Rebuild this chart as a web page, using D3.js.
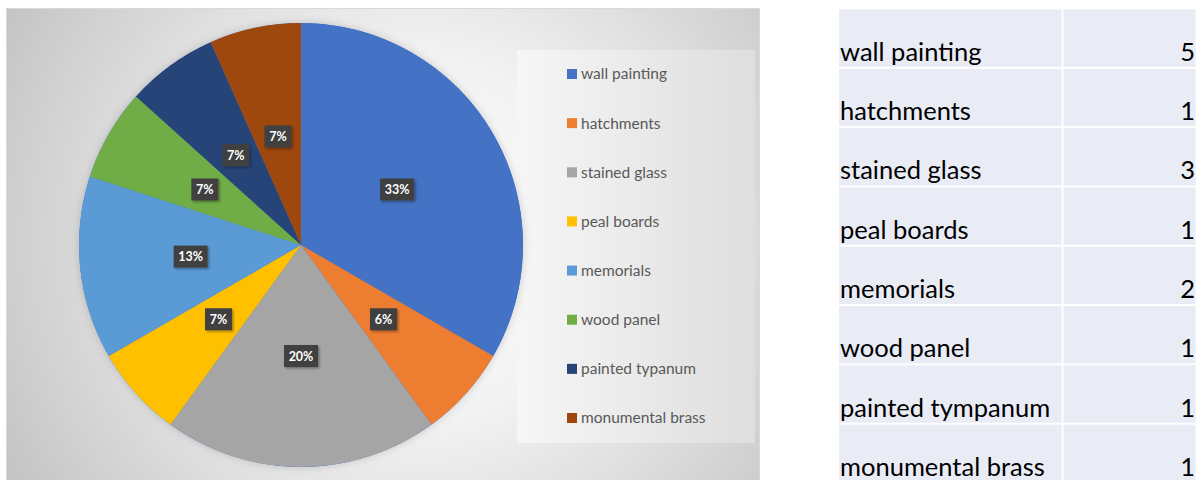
<!DOCTYPE html>
<html><head><meta charset="utf-8">
<script src="https://cdn.jsdelivr.net/npm/d3@7"></script>
<style>html,body{margin:0;padding:0;background:#fff;overflow:hidden}</style>
</head><body>
<svg id="c" width="1203" height="480"></svg>
<script>
const categories = ["wall painting","hatchments","stained glass","peal boards","memorials","wood panel","painted typanum","monumental brass"];
const tableCategories = ["wall painting","hatchments","stained glass","peal boards","memorials","wood panel","painted tympanum","monumental brass"];
const values = [5,1,3,1,2,1,1,1];
const pctLabels = ["33%","6%","20%","7%","13%","7%","7%","7%"];
const colors = ["#4472c4","#ed7d31","#a5a5a5","#ffc000","#5b9bd5","#70ad47","#264478","#9e480e"];

const svg = d3.select("#c");
const defs = svg.append("defs");
const rg = defs.append("radialGradient").attr("id","bg").attr("gradientUnits","userSpaceOnUse")
  .attr("cx",420).attr("cy",240).attr("r",520);
rg.append("stop").attr("offset","0%").attr("stop-color","#ffffff");
rg.append("stop").attr("offset","35%").attr("stop-color","#f2f2f2");
rg.append("stop").attr("offset","100%").attr("stop-color","#bdbdbd");
const lg = defs.append("linearGradient").attr("id","lbg").attr("x1","0").attr("x2","1").attr("y1","0").attr("y2","0");
lg.append("stop").attr("offset","0%").attr("stop-color","#f6f6f6");
lg.append("stop").attr("offset","100%").attr("stop-color","#dedede");
const f = defs.append("filter").attr("id","sh").attr("x","-30%").attr("y","-30%").attr("width","160%").attr("height","160%");
f.append("feDropShadow").attr("dx",1.5).attr("dy",1.5).attr("stdDeviation",1.2).attr("flood-color","#000").attr("flood-opacity",0.35);
const pf = defs.append("filter").attr("id","psh").attr("x","-10%").attr("y","-10%").attr("width","120%").attr("height","120%");
pf.append("feDropShadow").attr("dx",0).attr("dy",0).attr("stdDeviation",4).attr("flood-color","#000").attr("flood-opacity",0.18);

// chart area
svg.append("rect").attr("x",6.5).attr("y",8.5).attr("width",753).attr("height",475)
  .attr("fill","url(#bg)").attr("stroke","#d9d9d9").attr("stroke-width",1);
// legend box
svg.append("rect").attr("x",517).attr("y",50).attr("width",238).attr("height",393).attr("fill","url(#lbg)");

// pie
const cx = 301, cy = 245, R = 222;
const pie = d3.pie().value(d=>d).sort(null);
const arcs = pie(values);
const arc = d3.arc().innerRadius(0).outerRadius(R);
const labelArc = d3.arc().innerRadius(R*0.5).outerRadius(R*0.5);
const g = svg.append("g").attr("transform",`translate(${cx},${cy})`);
g.append("circle").attr("r",R).attr("fill","#4472c4").attr("filter","url(#psh)");
g.selectAll("path.s").data(arcs).join("path").attr("class","s")
  .attr("d",arc).attr("fill",(d,i)=>colors[i]);

const lab = g.selectAll("g.l").data(arcs).join("g").attr("class","l")
  .attr("transform",d=>`translate(${labelArc.centroid(d)})`);
lab.each(function(d,i){
  const s = d3.select(this);
  const w = pctLabels[i].length>2 ? 34 : 27;
  s.append("rect").attr("x",-w/2).attr("y",-11).attr("width",w).attr("height",22)
    .attr("fill","#404040").attr("filter","url(#sh)");
  s.append("text").attr("text-anchor","middle").attr("dy","0.36em")
    .attr("font-family","Lato, sans-serif").attr("font-weight","bold").attr("font-size",12.5)
    .attr("fill","#ffffff").text(pctLabels[i]);
});

// legend
const ly = d3.scalePoint().domain(categories).range([74,418]);
const leg = svg.append("g").selectAll("g").data(categories).join("g")
  .attr("transform",d=>`translate(567,${ly(d)})`);
leg.append("rect").attr("x",0).attr("y",-5).attr("width",10).attr("height",10).attr("fill",(d,i)=>colors[i]);
leg.append("text").attr("x",14).attr("dy","0.35em").attr("font-family","Lato, sans-serif")
  .attr("font-size",15.5).attr("fill","#595959").text(d=>d);

// table
const rowY = d3.scaleBand().domain(d3.range(tableCategories.length)).range([8.5,483]).paddingInner(0);
const tb = svg.append("g");
const rows = tb.selectAll("g").data(tableCategories).join("g");
rows.append("rect").attr("x",839).attr("y",(d,i)=>rowY(i)+1).attr("width",222.5).attr("height",rowY.bandwidth()-2).attr("fill","#e9ebf5");
rows.append("rect").attr("x",1063.5).attr("y",(d,i)=>rowY(i)+1).attr("width",132).attr("height",rowY.bandwidth()-2).attr("fill","#e9ebf5");
rows.append("text").attr("x",840).attr("y",(d,i)=>rowY(i)+rowY.bandwidth()-7)
  .attr("font-family","Lato, sans-serif").attr("font-size",25.5).attr("fill","#000").text(d=>d);
rows.append("text").attr("x",1195).attr("text-anchor","end").attr("y",(d,i)=>rowY(i)+rowY.bandwidth()-7)
  .attr("font-family","Lato, sans-serif").attr("font-size",25.5).attr("fill","#000").text((d,i)=>values[i]);
</script>
</body></html>
